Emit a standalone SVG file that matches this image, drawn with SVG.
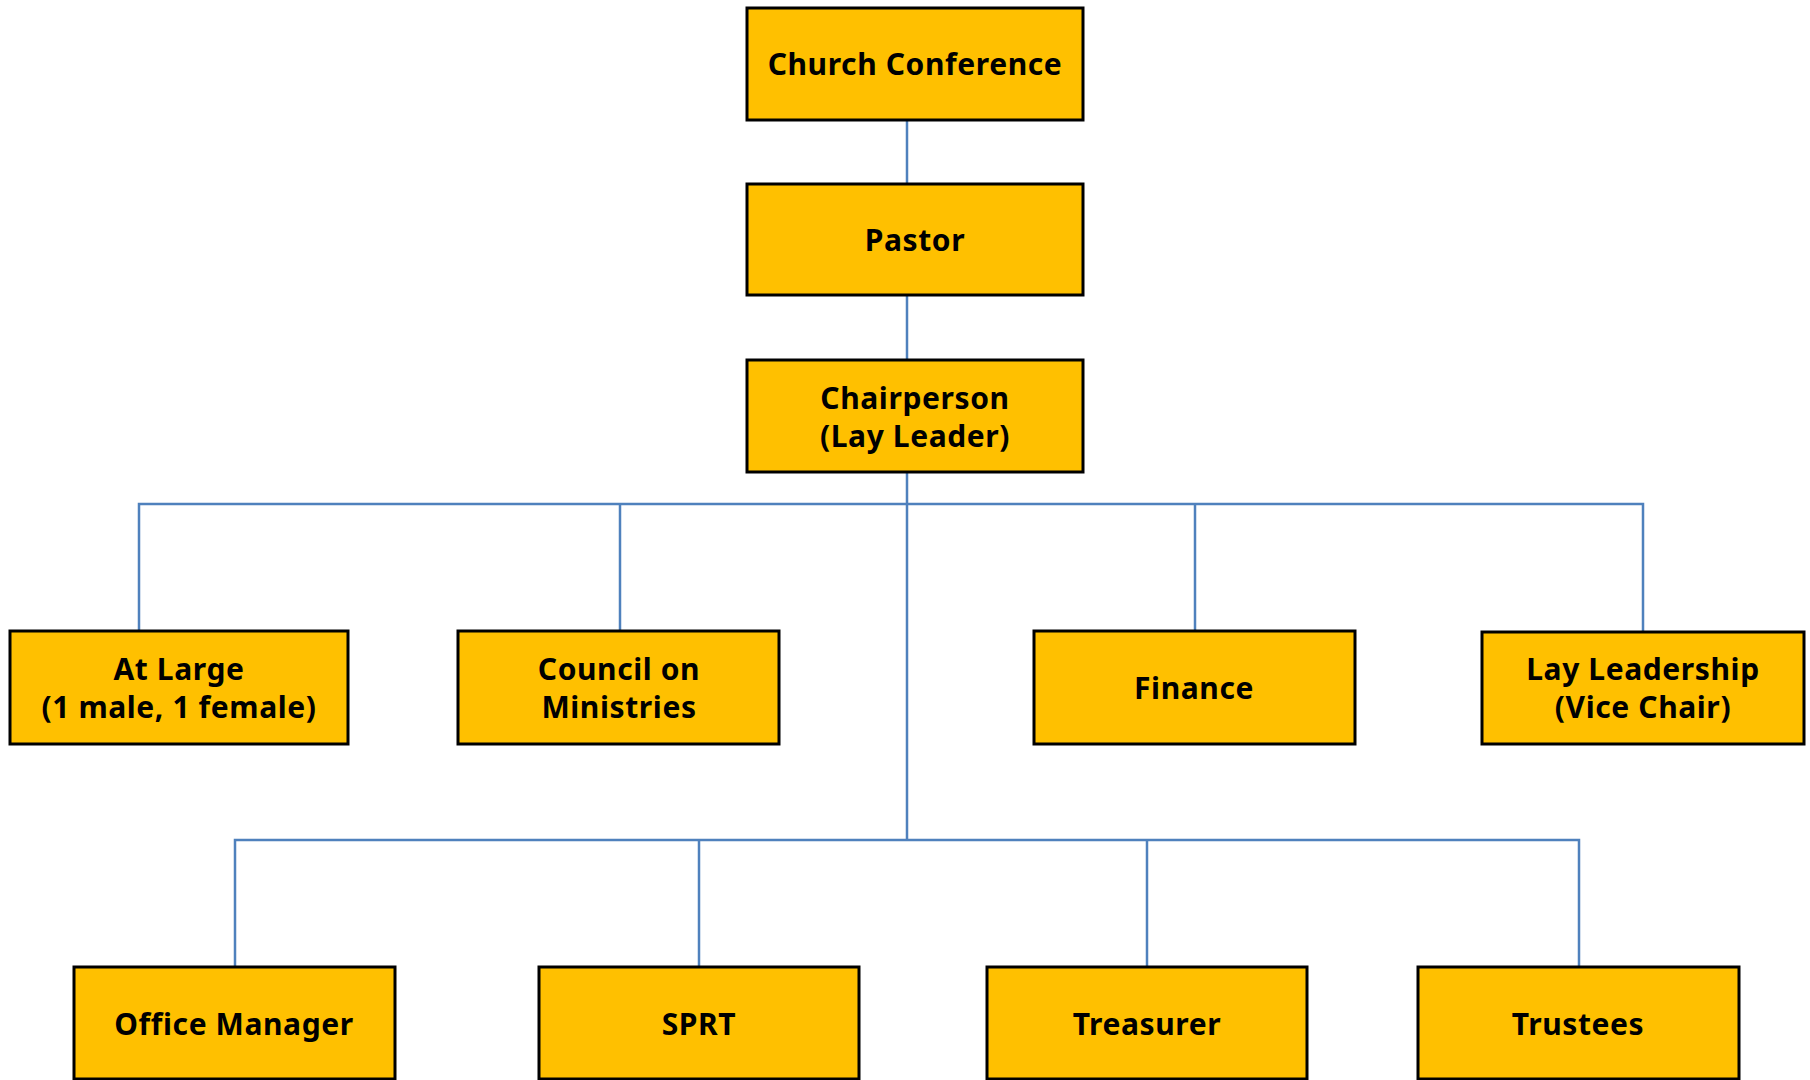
<svg xmlns="http://www.w3.org/2000/svg" width="1810" height="1080" viewBox="0 0 1810 1080">
<style>
.box{fill:#FFC000;stroke:#000;stroke-width:3}
.t{font-family:"Comic Sans MS","Noto Sans","DejaVu Sans",sans-serif;font-weight:bold;font-size:30px;letter-spacing:0.6px;fill:#000;text-anchor:middle}
.c{stroke:#4F81BD;stroke-width:2.5;fill:none}
</style>
<rect width="1810" height="1080" fill="#fff"/>
<g id="connectors">
<line class="c" x1="907" y1="120" x2="907" y2="184"/>
<line class="c" x1="907" y1="295" x2="907" y2="360"/>
<line class="c" x1="907" y1="472" x2="907" y2="840"/>
<polyline class="c" points="139,631 139,504 1643,504 1643,632"/>
<line class="c" x1="620" y1="504" x2="620" y2="631"/>
<line class="c" x1="1195" y1="504" x2="1195" y2="631"/>
<polyline class="c" points="235,967 235,840 1579,840 1579,967"/>
<line class="c" x1="699" y1="840" x2="699" y2="967"/>
<line class="c" x1="1147" y1="840" x2="1147" y2="967"/>
</g>
<g id="church-conference"><rect class="box" x="747" y="8" width="336" height="112"/><text class="t" x="915" y="75">Church Conference</text></g>
<g id="pastor"><rect class="box" x="747" y="184" width="336" height="111"/><text class="t" x="915" y="251">Pastor</text></g>
<g id="chairperson"><rect class="box" x="747" y="360" width="336" height="112"/><text class="t" x="915" y="409">Chairperson</text><text class="t" x="915" y="447">(Lay Leader)</text></g>
<g id="at-large"><rect class="box" x="10" y="631" width="338" height="113"/><text class="t" x="179" y="680">At Large</text><text class="t" x="179" y="718">(1 male, 1 female)</text></g>
<g id="council"><rect class="box" x="458" y="631" width="321" height="113"/><text class="t" x="619" y="680">Council on</text><text class="t" x="619" y="718">Ministries</text></g>
<g id="finance"><rect class="box" x="1034" y="631" width="321" height="113"/><text class="t" x="1194" y="699">Finance</text></g>
<g id="lay-leadership"><rect class="box" x="1482" y="632" width="322" height="112"/><text class="t" x="1643" y="680">Lay Leadership</text><text class="t" x="1643" y="718">(Vice Chair)</text></g>
<g id="office-manager"><rect class="box" x="74" y="967" width="321" height="112"/><text class="t" x="234" y="1035">Office Manager</text></g>
<g id="sprt"><rect class="box" x="539" y="967" width="320" height="112"/><text class="t" x="699" y="1035">SPRT</text></g>
<g id="treasurer"><rect class="box" x="987" y="967" width="320" height="112"/><text class="t" x="1147" y="1035">Treasurer</text></g>
<g id="trustees"><rect class="box" x="1418" y="967" width="321" height="112"/><text class="t" x="1578" y="1035">Trustees</text></g>
</svg>
